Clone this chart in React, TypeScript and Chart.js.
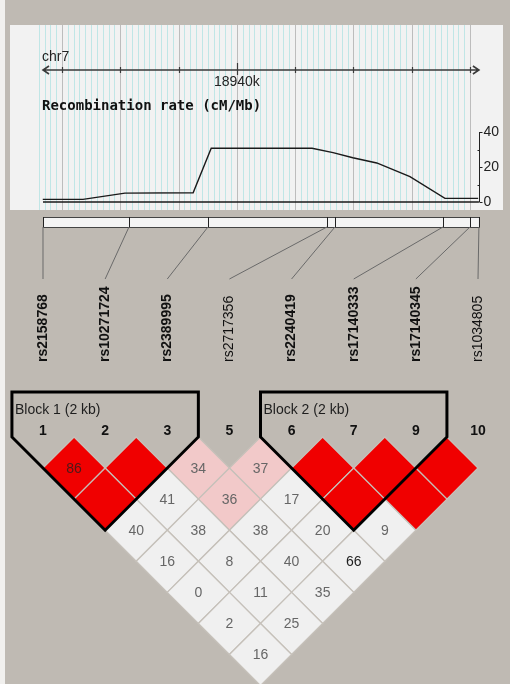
import React, { useEffect, useRef } from "react";
import { Chart, registerables } from "chart.js";

Chart.register(...registerables);

// ---------------- data ----------------
const chromosome = "chr7";
const markerNumbers = ["1", "2", "3", "5", "6", "7", "9", "10"];
const snpNames = [
  "rs2158768",
  "rs10271724",
  "rs2389995",
  "rs2717356",
  "rs2240419",
  "rs17140333",
  "rs17140345",
  "rs1034805",
];
const snpPositionsBp = [
  18936674, 18938149, 18939504, 18941546, 18941683, 18943536, 18943999, 18944153,
];
const blockFirst = [0, 4];
const blockLast = [2, 6];

const recombPositionsKb = [
  18936.67, 18937.36, 18938.08, 18939.25, 18939.56, 18941.29, 18941.65, 18941.99,
  18942.4, 18942.97, 18943.57, 18944.14,
];
const recombRates = [1.5, 1.5, 5.1, 5.3, 30.7, 30.7, 28.2, 25.3, 22.3, 14.5, 2.1, 2.1];
const rateTicks = [0, 20, 40];
const rateMinorTicks = [10, 30];
const labeledTickKb = 18940;

// D' x100 by marker distance (null = D' of 1, blank cell)
const ldDist1 = [86, null, 34, 37, null, null, null];
const ldDist2 = [null, 41, 36, 17, null, null];
const ldDist3 = [40, 38, 38, 20, 9];
const ldDist4 = [16, 8, 40, 66];
const ldDist5 = [0, 11, 35];
const ldDist6 = [2, 25];
const ldDist7 = [16];
// colour class: R = strong LD, P = LOD>=2 lower D', W = LOD<2
const ldClass1 = ["R", "R", "P", "P", "R", "R", "R"];
const ldClass2 = ["R", "W", "P", "W", "R", "R"];
const ldClass3 = ["W", "W", "W", "W", "W"];
const ldClass4 = ["W", "W", "W", "W"];
const ldClass5 = ["W", "W", "W"];
const ldClass6 = ["W", "W"];
const ldClass7 = ["W"];

// ---------------- derived ----------------
const ldRows = [ldDist1, ldDist2, ldDist3, ldDist4, ldDist5, ldDist6, ldDist7];
const ldClassRows = [ldClass1, ldClass2, ldClass3, ldClass4, ldClass5, ldClass6, ldClass7];
type Cell = { x: number; y: number; v: number | null; cls: string; i: number; j: number };
const ldCells: Cell[] = [];
ldRows.forEach((row, r) => {
  const d = r + 1;
  row.forEach((v, i) => {
    const j = i + d;
    ldCells.push({ x: (i + j) / 2, y: d / 2, v, cls: ldClassRows[r][i], i, j });
  });
});
const snpKb = snpPositionsBp.map((p) => p / 1000);

// ---------------- style / layout ----------------
const W = 510;
const H = 684;
const BG = "#bfbab3";
const PANEL = "#f2f2f2";
const CELL_COLORS: Record<string, string> = { R: "#f00000", P: "#f2c9c9", W: "#f0f0f0" };
const CELL_EDGE = "#c6c1ba";
const SANS = '"Liberation Sans", Arial, sans-serif';
const MONO = '"DejaVu Sans Mono", "Liberation Mono", monospace';

// scale anchors (pixels)
const kbPx0 = 62, kbPx1 = 470; // 18937 kb and 18944 kb
const kbPerPx = 7 / (kbPx1 - kbPx0);
const xPosMin = 18937 - kbPx0 * kbPerPx;
const xPosMax = xPosMin + W * kbPerPx;

const snpPx0 = 43, snpPx7 = 478;
const snpStep = (snpPx7 - snpPx0) / 7;
const xSnpMin = -snpPx0 / snpStep;
const xSnpMax = xSnpMin + W / snpStep;

const ldTopPx = 437;
const yLDMin = -ldTopPx / snpStep;
const yLDMax = yLDMin + H / snpStep;

const rate0Px = 202, rate40Px = 132;
const pxPerRate = (rate0Px - rate40Px) / 40;
const yRateMax = rate0Px / pxPerRate;
const yRateMin = yRateMax - H / pxPerRate;

const haploPlugin = {
  id: "haplo",
  beforeDraw(chart: any) {
    const ctx: CanvasRenderingContext2D = chart.ctx;
    const xp = chart.scales.xPos;
    const xs = chart.scales.xSnp;
    const yr = chart.scales.yRate;
    ctx.save();
    ctx.fillStyle = BG;
    ctx.fillRect(0, 0, W, H);
    ctx.fillStyle = "#f1f0ee";
    ctx.fillRect(0, 0, 5, H);
    // top panel
    const pTop = 25, pBot = 210;
    ctx.fillStyle = PANEL;
    ctx.fillRect(10, pTop, 493, pBot - pTop);
    // fine grid (0.1 kb)
    ctx.lineWidth = 1;
    ctx.strokeStyle = "#c0e6e6";
    for (let t = 189366; t <= 189440; t++) {
      if (t % 10 === 0) continue;
      const x = Math.round(xp.getPixelForValue(t / 10)) + 0.5;
      ctx.beginPath();
      ctx.moveTo(x, pTop);
      ctx.lineTo(x, pBot);
      ctx.stroke();
    }
    // kb grid
    ctx.strokeStyle = "#bdbdbd";
    for (let k = 18937; k <= 18944; k++) {
      const x = Math.round(xp.getPixelForValue(k)) + 0.5;
      ctx.beginPath();
      ctx.moveTo(x, pTop);
      ctx.lineTo(x, pBot);
      ctx.stroke();
    }
    // chromosome axis
    const ax0 = xp.getPixelForValue(snpKb[0]);
    const ax1 = xp.getPixelForValue(snpKb[snpKb.length - 1]);
    const ay = 70;
    ctx.strokeStyle = "#3a3a3a";
    ctx.lineWidth = 1.6;
    ctx.beginPath();
    ctx.moveTo(ax0, ay);
    ctx.lineTo(ax1, ay);
    ctx.moveTo(ax0 + 6, ay - 4);
    ctx.lineTo(ax0, ay);
    ctx.lineTo(ax0 + 6, ay + 4);
    ctx.moveTo(ax1 - 6, ay - 4);
    ctx.lineTo(ax1, ay);
    ctx.lineTo(ax1 - 6, ay + 4);
    ctx.stroke();
    ctx.lineWidth = 1.2;
    for (let k = 18937; k <= 18944; k++) {
      const x = Math.round(xp.getPixelForValue(k)) + 0.5;
      const big = k === labeledTickKb;
      ctx.beginPath();
      ctx.moveTo(x, big ? ay - 7 : ay - 3);
      ctx.lineTo(x, big ? ay + 5 : ay + 3);
      ctx.stroke();
    }
    ctx.fillStyle = "#222";
    ctx.font = `14px ${SANS}`;
    ctx.textBaseline = "middle";
    ctx.textAlign = "left";
    ctx.fillText(chromosome, 42, 57);
    ctx.textAlign = "center";
    ctx.fillText(`${labeledTickKb}k`, xp.getPixelForValue(labeledTickKb), 82);
    ctx.textAlign = "left";
    ctx.font = `bold 14px ${MONO}`;
    ctx.fillStyle = "#111";
    ctx.fillText("Recombination rate (cM/Mb)", 42, 106);
    // rate axis (right)
    const rx = Math.round(ax1) + 0.5;
    ctx.strokeStyle = "#222";
    ctx.lineWidth = 1;
    ctx.beginPath();
    ctx.moveTo(rx, yr.getPixelForValue(0));
    ctx.lineTo(rx, yr.getPixelForValue(rateTicks[rateTicks.length - 1]));
    ctx.stroke();
    ctx.font = `14px ${SANS}`;
    ctx.fillStyle = "#222";
    rateTicks.forEach((t) => {
      const y = Math.round(yr.getPixelForValue(t)) + 0.5;
      ctx.beginPath();
      ctx.moveTo(rx, y);
      ctx.lineTo(rx + 3, y);
      ctx.stroke();
      ctx.fillText(String(t), rx + 4, y);
    });
    rateMinorTicks.forEach((t) => {
      const y = Math.round(yr.getPixelForValue(t)) + 0.5;
      ctx.beginPath();
      ctx.moveTo(rx - 2, y);
      ctx.lineTo(rx, y);
      ctx.stroke();
    });
    // SNP position bar
    const bTop = 217, bBot = 227;
    ctx.fillStyle = "#f4f4f4";
    ctx.fillRect(ax0, bTop, ax1 - ax0, bBot - bTop);
    ctx.strokeStyle = "#444";
    ctx.strokeRect(Math.round(ax0) + 0.5, bTop + 0.5, Math.round(ax1 - ax0), bBot - bTop);
    ctx.strokeStyle = "#222";
    snpKb.forEach((k) => {
      const x = Math.round(xp.getPixelForValue(k)) + 0.5;
      ctx.beginPath();
      ctx.moveTo(x, bTop);
      ctx.lineTo(x, bBot);
      ctx.stroke();
    });
    // connectors
    ctx.strokeStyle = "#6a6a6a";
    ctx.lineWidth = 1;
    snpKb.forEach((k, i) => {
      ctx.beginPath();
      ctx.moveTo(xp.getPixelForValue(k), bBot);
      ctx.lineTo(xs.getPixelForValue(i), 279);
      ctx.stroke();
    });
    // SNP names (bold when inside a block)
    snpNames.forEach((name, i) => {
      const inBlock = blockFirst.some((f, b) => i >= f && i <= blockLast[b]);
      ctx.save();
      ctx.translate(xs.getPixelForValue(i), 362);
      ctx.rotate(-Math.PI / 2);
      ctx.font = `${inBlock ? "bold " : ""}14px ${SANS}`;
      ctx.fillStyle = "#111";
      ctx.textAlign = "left";
      ctx.textBaseline = "middle";
      ctx.fillText(name, 0, 0);
      ctx.restore();
    });
    ctx.restore();
  },
  afterDatasetsDraw(chart: any) {
    const ctx: CanvasRenderingContext2D = chart.ctx;
    const xs = chart.scales.xSnp;
    const yl = chart.scales.yLD;
    ctx.save();
    // cell values
    const meta = chart.getDatasetMeta(2);
    ctx.font = `14px ${SANS}`;
    ctx.textAlign = "center";
    ctx.textBaseline = "middle";
    meta.data.forEach((el: any, k: number) => {
      const c = ldCells[k];
      if (c.v === null) return;
      ctx.fillStyle = c.v >= 60 ? (c.cls === "R" ? "#4a1a1a" : "#1e1e1e") : "#666";
      ctx.fillText(String(c.v), el.x, el.y + 1);
    });
    // marker numbers
    ctx.font = `bold 14px ${SANS}`;
    ctx.fillStyle = "#111";
    markerNumbers.forEach((m, i) => {
      ctx.fillText(m, xs.getPixelForValue(i), 431);
    });
    // block outlines
    const topPx = 392;
    blockFirst.forEach((f, b) => {
      const l = blockLast[b];
      ctx.beginPath();
      ctx.moveTo(xs.getPixelForValue(f - 0.5), topPx);
      ctx.lineTo(xs.getPixelForValue(l + 0.5), topPx);
      ctx.lineTo(xs.getPixelForValue(l + 0.5), yl.getPixelForValue(0));
      ctx.lineTo(xs.getPixelForValue((f + l) / 2), yl.getPixelForValue((l - f) / 2 + 0.5));
      ctx.lineTo(xs.getPixelForValue(f - 0.5), yl.getPixelForValue(0));
      ctx.closePath();
      ctx.strokeStyle = "#000";
      ctx.lineWidth = 3;
      ctx.lineJoin = "miter";
      ctx.stroke();
      const kb = Math.floor((snpPositionsBp[l] - snpPositionsBp[f]) / 1000);
      ctx.font = `14px ${SANS}`;
      ctx.fillStyle = "#1e1e1e";
      ctx.textAlign = "left";
      ctx.fillText(`Block ${b + 1} (${kb} kb)`, xs.getPixelForValue(f - 0.5) + 3, 410);
    });
    ctx.restore();
  },
};

export default function App() {
  const ref = useRef<HTMLCanvasElement>(null);
  useEffect(() => {
    document.body.style.margin = "0";
    const canvas = ref.current;
    if (!canvas) return;
    const chart = new Chart(canvas, {
      type: "scatter",
      data: {
        datasets: [
          {
            label: "Recombination rate",
            type: "line",
            data: recombPositionsKb.map((x, i) => ({ x, y: recombRates[i] })),
            xAxisID: "xPos",
            yAxisID: "yRate",
            borderColor: "#1a1a1a",
            borderWidth: 1.4,
            pointRadius: 0,
            fill: false,
            tension: 0,
          },
          {
            label: "Baseline",
            type: "line",
            data: [
              { x: snpKb[0], y: 0 },
              { x: snpKb[snpKb.length - 1], y: 0 },
            ],
            xAxisID: "xPos",
            yAxisID: "yRate",
            borderColor: "#1a1a1a",
            borderWidth: 1.4,
            pointRadius: 0,
            fill: false,
          },
          {
            label: "LD (D')",
            type: "scatter",
            data: ldCells.map((c) => ({ x: c.x, y: c.y })),
            xAxisID: "xSnp",
            yAxisID: "yLD",
            pointStyle: "rectRot",
            pointRadius: (c: any) => {
              const s = c.chart.scales.xSnp;
              return s ? Math.abs(s.getPixelForValue(0.5) - s.getPixelForValue(0)) : 31;
            },
            pointBackgroundColor: ldCells.map((c) => CELL_COLORS[c.cls]),
            pointBorderColor: CELL_EDGE,
            pointBorderWidth: 1.3,
          } as any,
        ],
      },
      options: {
        responsive: false,
        maintainAspectRatio: false,
        animation: false,
        events: [],
        layout: { padding: 0 },
        plugins: { legend: { display: false }, tooltip: { enabled: false } },
        scales: {
          xPos: { type: "linear", display: false, min: xPosMin, max: xPosMax },
          xSnp: { type: "linear", display: false, min: xSnpMin, max: xSnpMax },
          yRate: { type: "linear", display: false, min: yRateMin, max: yRateMax },
          yLD: { type: "linear", display: false, reverse: true, min: yLDMin, max: yLDMax },
        },
      } as any,
      plugins: [haploPlugin],
    });
    return () => chart.destroy();
  }, []);
  return <canvas ref={ref} width={W} height={H} style={{ display: "block" }} />;
}
